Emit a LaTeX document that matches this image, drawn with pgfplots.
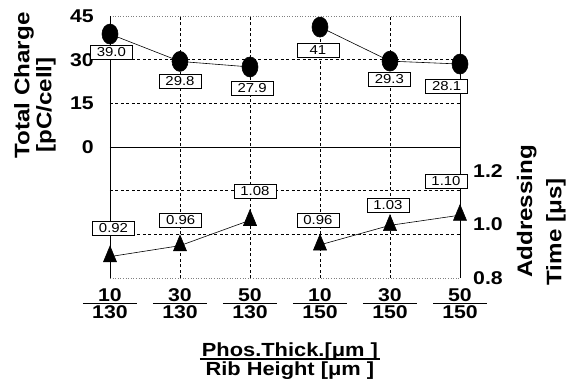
\documentclass[border=0pt]{standalone}
\usepackage{fontspec}
\setmainfont{Liberation Sans}[FakeStretch=1.15]
\usepackage{pgfplots}
\pgfplotsset{compat=1.18}
\newcommand\fr[2]{\vbox{\hbox to 54pt{\hss#1\hss}\kern1.5pt\hrule height 1.5pt\kern1.5pt\hbox to 54pt{\hss#2\hss}}}
\newcommand\tickfont{\bfseries\fontsize{18.5}{18.5}\selectfont}
\newcommand\labfont{\bfseries\fontsize{21}{22}\selectfont}
\tikzset{vbox/.style={draw=black, fill=white, line width=0.6pt, inner sep=1pt,
  minimum width=42pt, minimum height=14pt, font=\fontsize{13}{13}\selectfont}}
\begin{document}
\begin{tikzpicture}
\useasboundingbox (-110pt,-106pt) rectangle (458pt,278pt);
\begin{axis}[
  at={(0pt,0pt)}, anchor=south west,
  width=350pt, height=262pt, scale only axis,
  xmin=0, xmax=5, ymin=-45, ymax=45, clip=false,
  axis line style={draw=none}, major tick length=0pt,
  ytick={0,15,30,45},
  /pgf/number format/assume math mode=true,
  yticklabel style={font=\tickfont, anchor=east, inner sep=0pt, xshift=-16pt},
  xtick={0,1,2,3,4,5},
  xticklabels={{\fr{10}{130}},{\fr{30}{130}},{\fr{50}{130}},{\fr{10}{150}},{\fr{30}{150}},{\fr{50}{150}}},
  xticklabel style={font=\tickfont, anchor=north, inner sep=0pt, yshift=-10pt},
]
% grid
\foreach \xx in {1,2,3,4} {\edef\tmp{\noexpand\draw[line width=0.7pt, dash pattern=on 3pt off 2.5pt] (axis cs:\xx,-45) -- (axis cs:\xx,45);}\tmp}
\foreach \yy in {-30,-15,15,30} {\edef\tmp{\noexpand\draw[line width=0.7pt, dash pattern=on 3pt off 2.5pt] (axis cs:0,\yy) -- (axis cs:5,\yy);}\tmp}
\draw[line width=0.8pt] (axis cs:0,0) -- (axis cs:5,0);
\draw[line width=0.6pt, gray, dotted] (axis cs:0,45) -- (axis cs:5,45);
\draw[line width=0.6pt, gray, dotted] (axis cs:0,-45) -- (axis cs:5,-45);
\draw[line width=0.9pt] (axis cs:0,-45) -- (axis cs:0,45);
\draw[line width=0.9pt] (axis cs:5,-45) -- (axis cs:5,45);
% total charge
\addplot[black, line width=0.6pt, mark=*, mark size=10pt, mark options={xscale=0.8}] coordinates {(0,38.8) (1,29.4) (2,27.5)};
\addplot[black, line width=0.6pt, mark=*, mark size=10pt, mark options={xscale=0.8}] coordinates {(3,41.2) (4,29.5) (5,28.5)};
% value boxes
\node[vbox] at (axis cs:0.02,32.6) {39.0};
\node[vbox] at (axis cs:1.0,22.7) {29.8};
\node[vbox] at (axis cs:2.03,20.3) {27.9};
\node[vbox] at (axis cs:2.97,33.3) {41};
\node[vbox] at (axis cs:3.99,23.4) {29.3};
\node[vbox] at (axis cs:4.81,21.0) {28.1};
\node[vbox] at (axis cs:0.05,-27.8) {0.92};
\node[vbox] at (axis cs:1.01,-25.1) {0.96};
\node[vbox] at (axis cs:2.07,-15.1) {1.08};
\node[vbox] at (axis cs:2.97,-25.1) {0.96};
\node[vbox] at (axis cs:3.97,-19.9) {1.03};
\node[vbox] at (axis cs:4.8,-11.7) {1.10};
% axis titles
\node[font=\labfont, rotate=90] at (axis description cs:-0.246,0.735) {Total Charge};
\node[font=\labfont, rotate=90] at (axis description cs:-0.183,0.660) {[pC/cell]};
\node[font=\labfont, rotate=90] at (axis description cs:1.191,0.254) {Addressing};
\node[font=\labfont, rotate=90] at (axis description cs:1.274,0.176) {Time [μs]};
\node[font=\bfseries\fontsize{19}{20}\selectfont, anchor=north, inner sep=0pt] at (axis description cs:0.514,-0.248)
  {\vbox{\hbox to 180pt{\hss Phos.Thick.[μm ]\hss}\kern-2.5pt\hrule height 1.5pt\kern2pt\hbox to 180pt{\hss Rib Height [μm ]\hss}}};
\end{axis}
\begin{axis}[
  at={(0pt,0pt)}, anchor=south west,
  width=350pt, height=262pt, scale only axis,
  xmin=0, xmax=5, ymin=0.8, ymax=1.78, clip=false,
  axis line style={draw=none}, major tick length=0pt,
  xtick=\empty,
  ytick={0.8,1.0,1.2}, yticklabel pos=right,
  /pgf/number format/assume math mode=true,
  yticklabel style={font=\tickfont, anchor=west, inner sep=0pt, xshift=13pt,
    /pgf/number format/fixed, /pgf/number format/precision=1, /pgf/number format/fixed zerofill},
]
\addplot[black, line width=0.6pt, mark=triangle*, mark size=10.5pt, mark options={xscale=0.72}] coordinates {(0,0.880) (1,0.921) (2,1.016)};
\addplot[black, line width=0.6pt, mark=triangle*, mark size=10.5pt, mark options={xscale=0.72}] coordinates {(3,0.924) (4,0.997) (5,1.035)};
\end{axis}
\end{tikzpicture}
\end{document}
